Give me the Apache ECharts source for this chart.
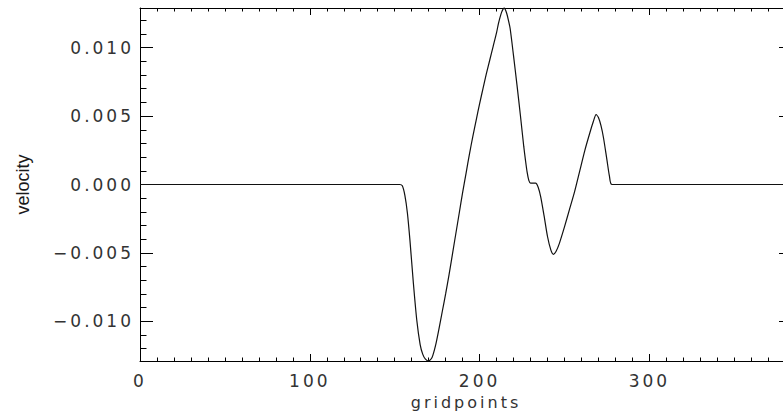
<!DOCTYPE html>
<html>
<head>
<meta charset="utf-8">
<script src="https://cdn.jsdelivr.net/npm/echarts@6/dist/echarts.min.js"></script>
<style>
  html, body { margin: 0; padding: 0; background: #fff; }
  #chart { width: 783px; height: 415px; }
  /* IDL vector font is wide: spread the tick labels a little */
  #chart text { letter-spacing: 3px; }
  #chart text[fill="#1a1a1a"], #chart text[style*="Liberation"] { letter-spacing: 0; }
</style>
</head>
<body>
<div id="chart"></div>
<script>
// gridpoint positions and velocity
const gridX = [0, 153, 154.5, 156, 157.5, 159, 161, 163, 165, 166.5, 168, 170, 172, 174, 176, 178,
  180, 182, 184, 186, 188, 190, 192, 194, 196, 198, 200, 202, 204, 206, 208, 210, 211, 212, 213,
  214, 214.5, 215, 216, 217, 218, 220, 222, 224, 226, 227, 228, 229, 230,
  231.5, 233, 234.5, 236, 238, 240, 242, 243.5, 245, 247, 250, 253, 256, 259, 262, 265, 267,
  268.6, 270, 271.5, 273, 275, 276.5, 278, 384]
const velocity = [0, 0, -0.0001, -0.0008, -0.0021, -0.0041, -0.0072, -0.0099, -0.0117, -0.0124, -0.01275, -0.0129, -0.01265, -0.0118, -0.0106, -0.0093,
  -0.0080, -0.0066, -0.0051, -0.0036, -0.0021, -0.0006, 0.0008, 0.0022, 0.0035, 0.0047, 0.0059, 0.0070, 0.0081, 0.0091, 0.0101, 0.0111, 0.0117, 0.0122, 0.0126,
  0.01285, 0.0129, 0.01282, 0.0125, 0.0120, 0.0114, 0.0094, 0.0073, 0.0051, 0.0028, 0.0018, 0.0009, 0.0003, 0.0001,
  0.0001, 0.0001, -0.0002, -0.0009, -0.0023, -0.0038, -0.0048, -0.0051, -0.0049, -0.0043, -0.0031, -0.0018, -0.0005, 0.0010, 0.0025, 0.0038, 0.0046,
  0.0051, 0.0049, 0.0043, 0.0034, 0.0018, 0.0006, 0, 0]

const xMajorTicks = [0, 100, 200, 300]
const xTickLabels = ['0', '100', '200', '300']
const yMajorTicks = [-0.010, -0.005, 0, 0.005, 0.010]
const yTickLabels = ['\u22120.010', '\u22120.005', '0.000', '0.005', '0.010']

const xMin = 0, xMax = 384
const yMin = -0.0129, yMax = 0.0129

const xMinorTicks = []
for (let i = 10; i <= 380; i += 10) if (i % 100 !== 0) xMinorTicks.push(i)
const yMinorTicks = []
for (let i = -12; i <= 12; i++) if (i % 5 !== 0) yMinorTicks.push(i / 1000)

const ink = '#000'
const labelFont = { fontFamily: 'DejaVu Sans', fontSize: 17, color: '#333' }

const chart = echarts.init(document.getElementById('chart'), null, { renderer: 'svg' })

const xAx = (position, ticks, len, showLine, showLabel) => ({
  type: 'value', position, min: xMin, max: xMax,
  axisLine: { show: showLine, onZero: false, lineStyle: { color: ink, width: 1 } },
  axisTick: { show: true, inside: true, length: len, customValues: ticks, lineStyle: { color: ink, width: 1 } },
  axisLabel: showLabel ? {
    show: true, customValues: xMajorTicks, margin: 11, ...labelFont,
    formatter: v => xTickLabels[xMajorTicks.indexOf(v)]
  } : { show: false },
  splitLine: { show: false }
})

const yAx = (position, ticks, len, showLine, showLabel) => ({
  type: 'value', position, min: yMin, max: yMax,
  axisLine: { show: showLine, onZero: false, lineStyle: { color: ink, width: 1 } },
  axisTick: { show: true, inside: true, length: len, customValues: ticks, lineStyle: { color: ink, width: 1 } },
  axisLabel: showLabel ? {
    show: true, customValues: yMajorTicks, margin: 6, ...labelFont,
    formatter: v => yTickLabels[yMajorTicks.findIndex(t => Math.abs(t - v) < 1e-9)]
  } : { show: false },
  splitLine: { show: false }
})

const bottomX = xAx('bottom', xMajorTicks, 7, true, true)
bottomX.name = 'gridpoints'
bottomX.nameLocation = 'middle'
bottomX.nameGap = 33
bottomX.nameTextStyle = { fontFamily: 'DejaVu Sans', fontSize: 16, color: '#333' }

const leftY = yAx('left', yMajorTicks, 13, true, true)
leftY.name = 'velocity'
leftY.nameLocation = 'middle'
leftY.nameRotate = 90
leftY.nameGap = 108
leftY.nameTextStyle = { fontFamily: 'Liberation Sans', fontSize: 18, color: '#1a1a1a' }

const options = {
  animation: false,
  backgroundColor: '#fff',
  // plot box runs past the right edge of the picture, as in the original
  grid: { left: 140, top: 8, width: 652, height: 353, containLabel: false, outerBoundsMode: 'none' },
  xAxis: [
    bottomX,
    xAx('bottom', xMinorTicks, 3.5, false, false),
    xAx('top', xMajorTicks, 7, true, false),
    xAx('top', xMinorTicks, 3.5, false, false)
  ],
  yAxis: [
    leftY,
    yAx('left', yMinorTicks, 6.5, false, false),
    yAx('right', yMajorTicks, 13, true, false),
    yAx('right', yMinorTicks, 6.5, false, false)
  ],
  series: [
    {
      type: 'line',
      xAxisIndex: 0,
      yAxisIndex: 0,
      data: gridX.map((x, i) => [x, velocity[i]]),
      showSymbol: false,
      smooth: 0.25,
      clip: false,
      lineStyle: { color: '#111', width: 1.2 }
    }
  ]
}

chart.setOption(options)
</script>
</body>
</html>
